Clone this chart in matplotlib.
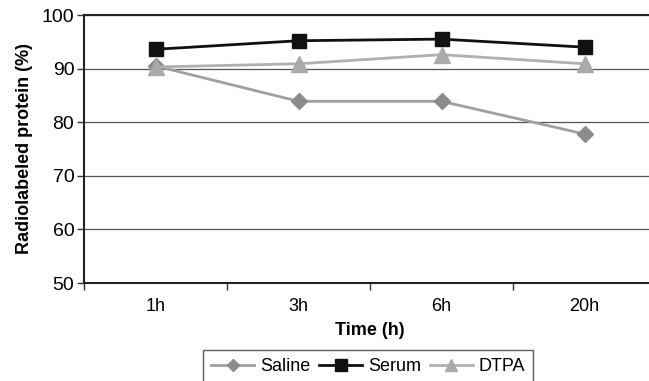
import matplotlib
matplotlib.use("Agg")
import matplotlib.pyplot as plt

plt.rcParams['font.family'] = ['Liberation Sans', 'DejaVu Sans']

# data
times = ['1h', '3h', '6h', '20h']
saline = [90.5, 83.9, 83.9, 77.8]
serum = [93.6, 95.2, 95.5, 94.0]
dtpa = [90.3, 90.9, 92.6, 90.9]
y_ticks = [50, 60, 70, 80, 90, 100]

fig = plt.figure(figsize=(6.49, 3.81), dpi=100)
ax = fig.add_axes([84 / 649, 1 - 283 / 381, 572 / 649, 268 / 381])

x = range(len(times))
ax.plot(x, saline, color='#a0a0a0', lw=2, marker='D', ms=8,
        mfc='#8c8c8c', mec='#8c8c8c', label='Saline', clip_on=False, zorder=3)
ax.plot(x, serum, color='#111111', lw=2, marker='s', ms=10.5,
        mfc='#111111', mec='#111111', label='Serum', clip_on=False, zorder=4)
ax.plot(x, dtpa, color='#b0b0b0', lw=2, marker='^', ms=11,
        mfc='#aaaaaa', mec='#aaaaaa', label='DTPA', clip_on=False, zorder=3)

ax.set_xlim(-0.5, len(times) - 0.5)
ax.set_ylim(50, 100)
ax.set_yticks(y_ticks)
ax.set_yticklabels([str(v) for v in y_ticks], fontsize=14)
ax.set_xticks(list(x))
ax.set_xticklabels(times, fontsize=13)
ax.tick_params(axis='x', length=0, pad=11)
ax.set_xticks([i - 0.5 for i in range(len(times) + 1)], minor=True)
ax.tick_params(axis='x', which='minor', length=5, width=1, color='#333333')
ax.tick_params(axis='y', length=5, width=1, color='#333333', pad=2)

ax.grid(axis='y', color='#555555', lw=0.9)
ax.set_axisbelow(True)
for s in ['left', 'bottom', 'top']:
    ax.spines[s].set_color('#222222')
    ax.spines[s].set_linewidth(1.5)
ax.spines['right'].set_visible(False)

ax.set_xlabel('Time (h)', fontsize=13, fontweight='bold', labelpad=5)
ax.set_ylabel('Radiolabeled protein (%)', fontsize=13, fontweight='bold', labelpad=6)

leg = fig.legend(loc='upper center', bbox_to_anchor=(368 / 649, 1 - 350 / 381),
                 ncol=3, fontsize=13, frameon=True, fancybox=False,
                 handlelength=2.4, columnspacing=0.5, handletextpad=0.3,
                 borderpad=0.45, borderaxespad=0, markerscale=0.8)
leg.get_frame().set_edgecolor('#333333')
leg.get_frame().set_linewidth(1.0)

fig.savefig('out.png', dpi=100)
